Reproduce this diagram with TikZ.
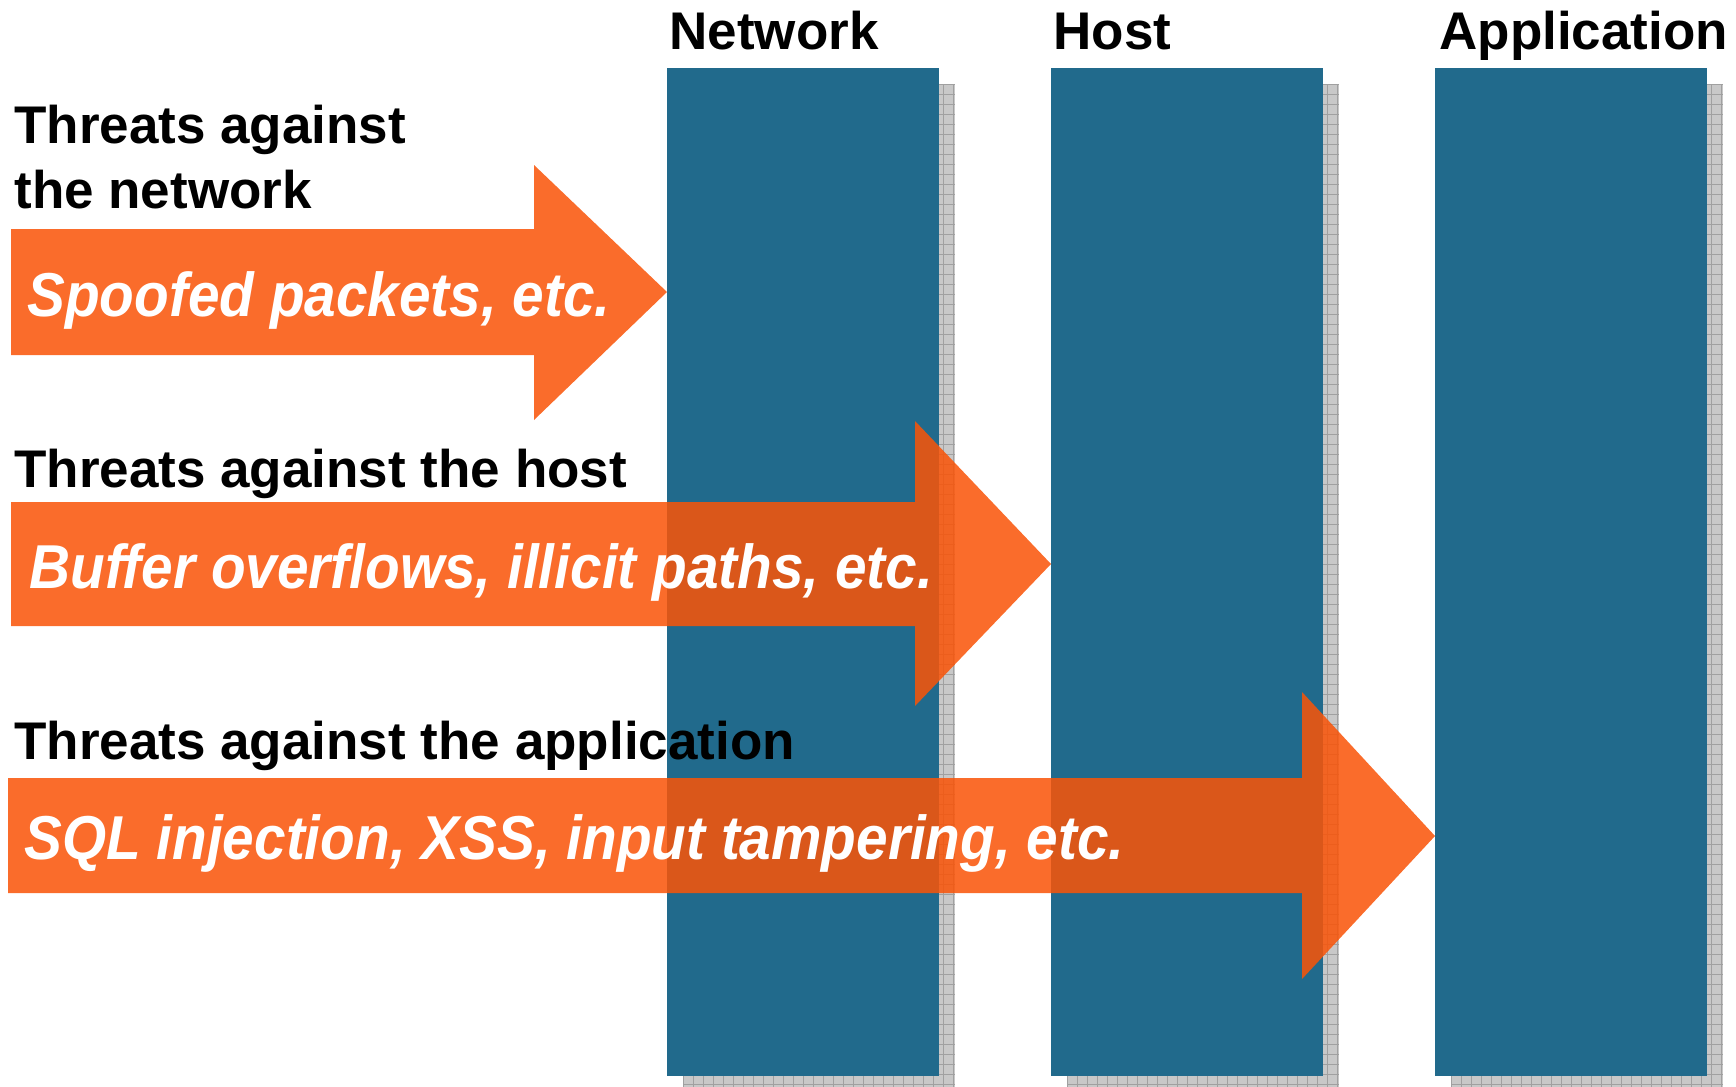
\documentclass[tikz,border=0pt]{standalone}
\usepackage{fontspec}
\setmainfont{Liberation Sans}
\newfontfamily\arrowfont[FakeStretch=0.915]{Liberation Sans}
\definecolor{barblue}{RGB}{33,106,140}
\definecolor{arroworange}{RGB}{249,84,8}
\definecolor{shadowgray}{RGB}{200,200,200}
\definecolor{gridgray}{RGB}{160,160,160}
\begin{document}
\begin{tikzpicture}[x=0.5pt,y=-0.5pt,
  bar/.style={fill=barblue, draw=none, inner sep=0, minimum width=136pt, minimum height=504pt, anchor=north west},
  shadowbox/.style={fill=shadowgray, draw=none},
  shadowgrid/.style={draw=gridgray, line width=0.45pt},
  threat/.style={fill=arroworange, fill opacity=0.86, draw=none},
  header/.style={anchor=base west, inner sep=0, font=\fontsize{26.5pt}{30pt}\selectfont\bfseries},
  example/.style={anchor=base west, inner sep=0, text=white, font=\arrowfont\fontsize{31pt}{34pt}\selectfont\bfseries\itshape}
]
\useasboundingbox (0,0) rectangle (1736,1087);

% shadows
\begin{scope}
\clip (0,0) rectangle (1736,1087);
\foreach \bx in {667,1051,1435}{
  \fill[shadowbox] (\bx+16,84) rectangle (\bx+288,1092);
  \foreach \gx in {0,10,...,270} \draw[shadowgrid] (\bx+16+\gx,84) -- (\bx+16+\gx,1092);
  \foreach \gy in {0,10,...,1000} \draw[shadowgrid] (\bx+16,84+\gy) -- (\bx+288,84+\gy);
}
\end{scope}

% bars
\node[bar] (net) at (667,68) {};
\node[bar] (host) at (1051,68) {};
\node[bar] (app) at (1435,68) {};

% headers
\node[header] (hnet) at (669,49) {Network};
\node[header] (hhost) at (1053,49) {Host};
\node[header] (happ) at (1439,49) {Application};

% arrows
\coordinate (tip1) at (net.west |- 0,292);
\coordinate (tip2) at (host.west |- 0,564);
\coordinate (tip3) at (app.west |- 0,836);
\fill[threat] (11,229) -- (534,229) -- (534,165) -- (tip1) -- (534,420) -- (534,355) -- (11,355) -- cycle;
\fill[threat] (11,502) -- (915,502) -- (915,421) -- (tip2) -- (915,706) -- (915,626) -- (11,626) -- cycle;
\fill[threat] (8,778) -- (1302,778) -- (1302,692) -- (tip3) -- (1302,979) -- (1302,893) -- (8,893) -- cycle;

% threat labels
\node[header] (tn1) at (14,143) {Threats against};
\node[header] (tn2) at (14,208) {the network};
\node[header] (th) at (14,487) {Threats against the host};
\node[header] (ta) at (14,759) {Threats against the application};

% examples
\node[example] (en) at (27,316) {Spoofed packets, etc.};
\node[example] (eh) at (29,588) {Buffer overflows, illicit paths, etc.};
\node[example] (ea) at (24,859) {SQL injection, XSS, input tampering, etc.};
\end{tikzpicture}
\end{document}
